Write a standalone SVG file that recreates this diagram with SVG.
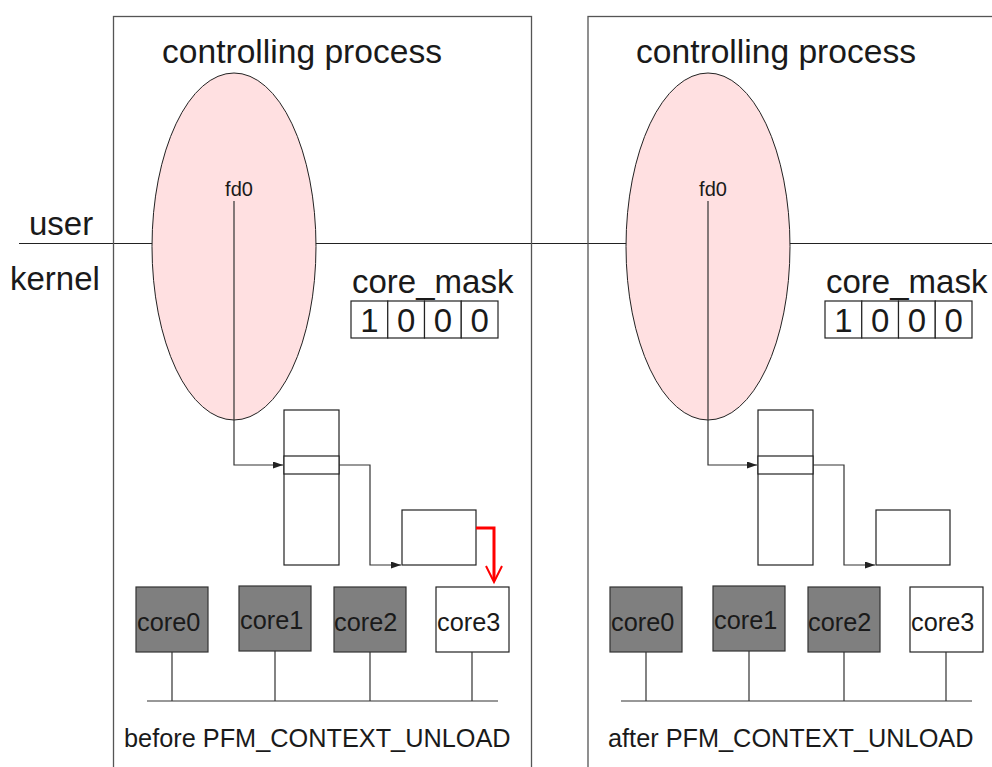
<svg xmlns="http://www.w3.org/2000/svg" width="992" height="767" viewBox="0 0 992 767">
<style>
text{font-family:"Liberation Sans",Arial,sans-serif;fill:#1a1a1a}
.panel{fill:none;stroke:#555;stroke-width:1.3}
.box{fill:#fff;stroke:#222;stroke-width:1.2}
.gray{fill:#7f7f7f;stroke:#333;stroke-width:1.2}
.ell{fill:#ffe0e1;stroke:#222;stroke-width:1}
.ln{fill:none;stroke:#333;stroke-width:1.2}
.t34{font-size:33.6px}
.t32{font-size:33px}
.t28{font-size:33px;text-anchor:middle}
.t25{font-size:25.3px}
.t20{font-size:20px;text-anchor:middle}
</style>
<defs>
<marker id="ah" markerUnits="userSpaceOnUse" markerWidth="11" markerHeight="8" refX="10" refY="3.5" orient="auto">
<path d="M0,0 L10,3.5 L0,7 z" fill="#222"/>
</marker>
</defs>
<g id="divider">
<line x1="19" y1="243.5" x2="992" y2="243.5" stroke="#222" stroke-width="1.2"/>
<text class="t32" x="29" y="235">user</text>
<text class="t32" x="10" y="290">kernel</text>
</g>
<g id="panel-before">
<rect class="panel" x="113.5" y="16.5" width="418" height="760"/>
<text class="t34" x="162" y="63">controlling process</text>
<g id="process-before"><ellipse class="ell" cx="234" cy="246.5" rx="82" ry="173.5"/><text class="t20" x="239" y="196">fd0</text></g>
<g id="mask-before">
<text class="t32" x="352" y="293">core_mask</text>
<rect class="box" x="351" y="301" width="36.75" height="37"/>
<rect class="box" x="387.75" y="301" width="36.75" height="37"/>
<rect class="box" x="424.5" y="301" width="36.75" height="37"/>
<rect class="box" x="461.25" y="301" width="36.75" height="37"/>
<text class="t28" x="369.4" y="332">1</text><text class="t28" x="406.1" y="332">0</text><text class="t28" x="442.9" y="332">0</text><text class="t28" x="479.6" y="332">0</text>
</g>
<g id="table-before"><rect class="box" x="284" y="410" width="55" height="155"/><rect class="box" x="284" y="456" width="55" height="18"/></g>
<g id="ctx-before"><rect class="box" x="402" y="510" width="74" height="55"/></g>
<g id="core0-before"><rect class="gray" x="136" y="587" width="72" height="65"/><text class="t25" x="137" y="631">core0</text></g>
<g id="core1-before"><rect class="gray" x="239" y="586" width="72" height="65"/><text class="t25" x="240" y="629">core1</text></g>
<g id="core2-before"><rect class="gray" x="334" y="587" width="72" height="65"/><text class="t25" x="334" y="631">core2</text></g>
<g id="core3-before"><rect class="box" x="436" y="587" width="73" height="65"/><text class="t25" x="437" y="631">core3</text></g>
<text class="t25" x="124" y="747">before PFM_CONTEXT_UNLOAD</text>
</g>
<g id="panel-after">
<rect class="panel" x="588" y="16.5" width="418" height="760"/>
<text class="t34" x="636" y="63">controlling process</text>
<g id="process-after"><ellipse class="ell" cx="708" cy="246.5" rx="82" ry="173.5"/><text class="t20" x="713" y="196">fd0</text></g>
<g id="mask-after">
<text class="t32" x="826" y="293">core_mask</text>
<rect class="box" x="825" y="301" width="36.75" height="37"/>
<rect class="box" x="861.75" y="301" width="36.75" height="37"/>
<rect class="box" x="898.5" y="301" width="36.75" height="37"/>
<rect class="box" x="935.25" y="301" width="36.75" height="37"/>
<text class="t28" x="843.4" y="332">1</text><text class="t28" x="880.1" y="332">0</text><text class="t28" x="916.9" y="332">0</text><text class="t28" x="953.6" y="332">0</text>
</g>
<g id="table-after"><rect class="box" x="758" y="410" width="55" height="155"/><rect class="box" x="758" y="456" width="55" height="18"/></g>
<g id="ctx-after"><rect class="box" x="876" y="510" width="74" height="55"/></g>
<g id="core0-after"><rect class="gray" x="610" y="587" width="72" height="65"/><text class="t25" x="611" y="631">core0</text></g>
<g id="core1-after"><rect class="gray" x="713" y="586" width="72" height="65"/><text class="t25" x="714" y="629">core1</text></g>
<g id="core2-after"><rect class="gray" x="808" y="587" width="72" height="65"/><text class="t25" x="808" y="631">core2</text></g>
<g id="core3-after"><rect class="box" x="910" y="587" width="73" height="65"/><text class="t25" x="911" y="631">core3</text></g>
<text class="t25" x="608" y="747">after PFM_CONTEXT_UNLOAD</text>
</g>
<g id="connectors">
<path class="ln" d="M234,201 V465 H283" marker-end="url(#ah)"/>
<path class="ln" d="M339,465 H370 V565 H401" marker-end="url(#ah)"/>
<path d="M476,528 H494 V580" fill="none" stroke="#f00" stroke-width="3"/>
<path d="M486,566 L494,582 L502,566" fill="none" stroke="#f00" stroke-width="2"/>
<path class="ln" d="M147,701 H498 M172,652 V701 M275,651 V701 M370,652 V701 M472,652 V701"/>
<path class="ln" d="M708,201 V465 H757" marker-end="url(#ah)"/>
<path class="ln" d="M813,465 H844 V565 H875" marker-end="url(#ah)"/>
<path class="ln" d="M621,701 H972 M646,652 V701 M749,651 V701 M844,652 V701 M946,652 V701"/>
</g>
</svg>
